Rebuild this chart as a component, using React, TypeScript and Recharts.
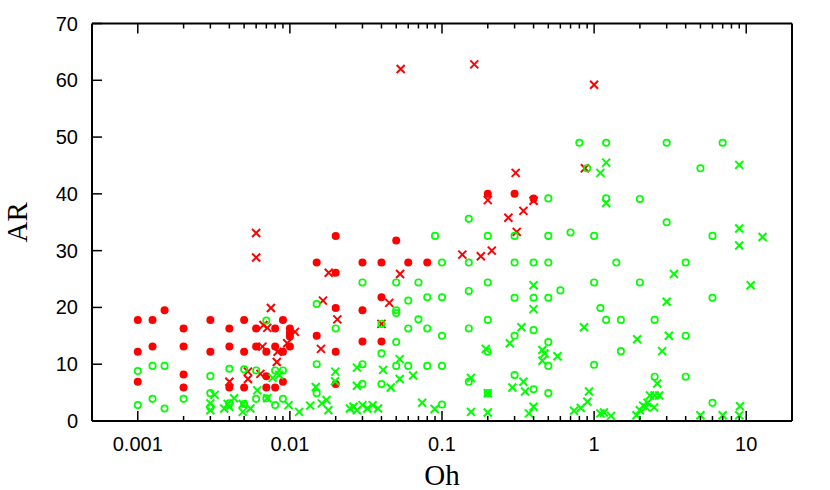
import { ScatterChart, Scatter, XAxis, YAxis, Label } from "recharts";

// Oh, AR pairs
const redDots: [number, number][] = [
  [0.001, 17.8], [0.001, 12.2], [0.001, 6.9],
  [0.00125, 17.8], [0.00125, 13.1],
  [0.0015, 19.5],
  [0.002, 16.3], [0.002, 13.1], [0.002, 8.2], [0.002, 5.9],
  [0.003, 17.8], [0.003, 12.2],
  [0.004, 16.3], [0.004, 13.1], [0.004, 5.9],
  [0.005, 17.8], [0.005, 12.2], [0.005, 5.9],
  [0.006, 16.3], [0.006, 13.1],
  [0.007, 12.2], [0.007, 7.9], [0.007, 5.9],
  [0.008, 16.3], [0.008, 13.1], [0.008, 5.9],
  [0.009, 17.8], [0.009, 12.2], [0.009, 6.9],
  [0.01, 16.3], [0.01, 15.6], [0.01, 14.9], [0.01, 13.1],
  [0.015, 27.9], [0.015, 15.0],
  [0.02, 32.6], [0.02, 26.1], [0.02, 19.9], [0.02, 12.2], [0.02, 6.5],
  [0.03, 27.9], [0.03, 19.5], [0.03, 14.0],
  [0.04, 27.9], [0.04, 21.8], [0.04, 14.0],
  [0.05, 31.8], [0.06, 27.9], [0.08, 27.9],
  [0.2, 40.0], [0.3, 40.0], [0.4, 39.2],
];

const redCrosses: [number, number][] = [
  [0.006, 33.1], [0.006, 28.8], [0.0075, 19.9], [0.0067, 16.9], [0.0071, 16.4],
  [0.0108, 15.7], [0.0096, 13.7], [0.0083, 12.2], [0.0082, 10.4], [0.0066, 13.1],
  [0.0053, 8.7], [0.0053, 7.4], [0.0064, 8.3], [0.004, 6.9],
  [0.018, 26.1], [0.0165, 21.2], [0.0205, 17.9], [0.016, 12.7],
  [0.053, 25.9], [0.045, 20.8], [0.04, 17.1], [0.0535, 62.0],
  [0.163, 62.8], [1.0, 59.2], [0.87, 44.5], [0.305, 43.7],
  [0.2, 38.9], [0.4, 38.8], [0.343, 37.0], [0.273, 35.8], [0.31, 33.3],
  [0.136, 29.3], [0.18, 29.0], [0.2125, 30.0],
];

const greenRings: [number, number][] = [
  [0.001, 8.8], [0.001, 2.8], [0.00125, 9.7], [0.00125, 3.9], [0.0015, 9.7], [0.0015, 2.2],
  [0.002, 3.9], [0.003, 7.9], [0.003, 4.9], [0.003, 2.4], [0.004, 9.2], [0.004, 3.1],
  [0.005, 9.1], [0.005, 3.0], [0.006, 8.9], [0.006, 3.9], [0.007, 17.7], [0.007, 4.0],
  [0.008, 8.9], [0.008, 2.8], [0.009, 8.9], [0.009, 3.9],
  [0.015, 20.6], [0.015, 10.0], [0.015, 4.9], [0.02, 16.3],
  [0.03, 24.4], [0.03, 10.0], [0.03, 6.5],
  [0.04, 17.1], [0.04, 11.9], [0.04, 6.5],
  [0.05, 24.4], [0.05, 19.5], [0.05, 19.0], [0.05, 13.9], [0.05, 9.7],
  [0.06, 21.2], [0.06, 16.3], [0.06, 9.7],
  [0.07, 24.4], [0.07, 17.9],
  [0.08, 21.8], [0.08, 16.3], [0.08, 9.7],
  [0.09, 32.6],
  [0.1, 27.9], [0.1, 21.8], [0.1, 15.0], [0.1, 9.7], [0.1, 2.9],
  [0.15, 35.6], [0.15, 27.9], [0.15, 22.9], [0.15, 16.3], [0.15, 6.9],
  [0.2, 32.6], [0.2, 24.4], [0.2, 17.8], [0.2, 12.2], [0.2, 4.9],
  [0.3, 32.6], [0.3, 27.9], [0.3, 21.7], [0.3, 15.0], [0.3, 8.1],
  [0.4, 27.9], [0.4, 21.7], [0.4, 16.0], [0.4, 5.6],
  [0.5, 39.2], [0.5, 32.6], [0.5, 27.9], [0.5, 21.7], [0.5, 13.9], [0.5, 9.7], [0.5, 4.9],
  [0.6, 23.0], [0.7, 33.2], [0.8, 49.0], [0.9, 44.5],
  [1.0, 32.6], [1.0, 24.4], [1.0, 9.9], [1.1, 19.9],
  [1.2, 49.0], [1.2, 39.2], [1.2, 17.8], [1.4, 27.9], [1.5, 17.8], [1.5, 12.3],
  [2.0, 39.1], [2.0, 24.4], [2.5, 17.8], [2.5, 7.8],
  [3.0, 49.0], [3.0, 35.0], [4.0, 27.9], [4.0, 15.0], [4.0, 7.8],
  [5.0, 44.5], [6.0, 32.6], [6.0, 21.7], [6.0, 3.2], [7.0, 49.0],
];

const greenCrosses: [number, number][] = [
  [0.0032, 4.6], [0.003, 3.1], [0.003, 1.9], [0.0037, 2.2], [0.0039, 3.0], [0.004, 2.5],
  [0.0043, 4.0], [0.0049, 3.0], [0.0049, 1.6], [0.0055, 2.2], [0.0061, 5.4], [0.0071, 4.0],
  [0.0077, 7.6], [0.0085, 8.1], [0.0098, 2.8], [0.0115, 1.6], [0.0136, 2.7], [0.0148, 6.0],
  [0.0162, 3.1], [0.0174, 3.7], [0.0179, 1.9], [0.0199, 8.7], [0.0198, 7.0],
  [0.0248, 2.2], [0.0262, 2.5], [0.0276, 9.4], [0.0276, 6.2], [0.0276, 1.9],
  [0.03, 2.8], [0.0323, 2.2], [0.035, 2.8], [0.038, 2.2],
  [0.041, 9.0], [0.046, 5.9], [0.0527, 7.4], [0.0527, 10.9], [0.0646, 8.0],
  [0.0741, 3.2], [0.0895, 2.1],
  [0.155, 1.6], [0.155, 7.6], [0.194, 12.7], [0.2, 4.9], [0.2, 1.5],
  [0.279, 13.7], [0.29, 5.9], [0.333, 16.5], [0.343, 6.9], [0.352, 5.2], [0.373, 1.35],
  [0.4, 2.5], [0.4, 23.9], [0.4, 19.7], [0.457, 12.5], [0.472, 11.9], [0.457, 10.6],
  [0.574, 11.4], [0.738, 1.8], [0.817, 2.3], [0.903, 3.4], [0.926, 5.2], [0.858, 16.5],
  [1.1, 43.7], [1.2, 45.5], [1.2, 38.4], [1.1, 1.35], [1.16, 1.5], [1.29, 0.9],
  [1.92, 14.4], [1.9, 1.0], [2.0, 1.9], [2.1, 2.7], [2.2, 2.4], [2.25, 3.2], [2.48, 2.4],
  [2.33, 4.5], [2.5, 4.5], [2.68, 4.5], [2.6, 6.6], [2.8, 12.3], [3.1, 15.0], [3.0, 21.0],
  [3.35, 25.9], [5.0, 1.0], [7.0, 1.0], [9.0, 1.0], [9.1, 2.6],
  [9.0, 45.1], [9.0, 33.9], [9.0, 30.9], [10.7, 23.9], [12.8, 32.4],
];

const majorTicks = [0.001, 0.01, 0.1, 1, 10];
const minorTicks = [
  0.002, 0.003, 0.004, 0.005, 0.006, 0.007, 0.008, 0.009,
  0.02, 0.03, 0.04, 0.05, 0.06, 0.07, 0.08, 0.09,
  0.2, 0.3, 0.4, 0.5, 0.6, 0.7, 0.8, 0.9,
  2, 3, 4, 5, 6, 7, 8, 9,
];
const yTicks = [0, 10, 20, 30, 40, 50, 60, 70];

const RED = "#ff0000";
const GREEN = "#00ff00";
const SANS = "'Liberation Sans', Arial, Helvetica, sans-serif";
const SERIF = "'Liberation Serif', 'Times New Roman', serif";

const toPoints = (rows: [number, number][]) => rows.map(([oh, ar]) => ({ oh, ar }));

const DotShape = (p: any) => <circle cx={p.cx} cy={p.cy} r={4} fill={RED} />;
const RingShape = (p: any) => (
  <circle cx={p.cx} cy={p.cy} r={3.2} fill="none" stroke={GREEN} strokeWidth={1.7} />
);
const crossShape = (color: string) => (p: any) => {
  const s = 4;
  return (
    <path
      d={`M${p.cx - s},${p.cy - s}L${p.cx + s},${p.cy + s}M${p.cx - s},${p.cy + s}L${p.cx + s},${p.cy - s}`}
      stroke={color}
      strokeWidth={2}
      fill="none"
    />
  );
};

const isMajor = (v: number) => majorTicks.includes(v);

const BottomTick = ({ x, y, payload }: any) => (
  <g>
    <line x1={x} y1={y} x2={x} y2={y - (isMajor(payload.value) ? 10 : 5)} stroke="#000" strokeWidth={1.5} />
    {isMajor(payload.value) && (
      <text x={x} y={y + 30} textAnchor="middle" fontSize={20} fontFamily={SANS} fill="#000">
        {String(payload.value)}
      </text>
    )}
  </g>
);

const TopTick = ({ x, y, payload }: any) => (
  <line x1={x} y1={y} x2={x} y2={y + (isMajor(payload.value) ? 10 : 5)} stroke="#000" strokeWidth={1.5} />
);

const LeftTick = ({ x, y, payload }: any) => (
  <g>
    <line x1={x} y1={y} x2={x + 10} y2={y} stroke="#000" strokeWidth={1.5} />
    <text x={x - 14} y={y + 7} textAnchor="end" fontSize={20} fontFamily={SANS} fill="#000">
      {payload.value}
    </text>
  </g>
);

const RightTick = ({ x, y }: any) => (
  <line x1={x} y1={y} x2={x - 10} y2={y} stroke="#000" strokeWidth={1.5} />
);

export default function App() {
  return (
    <div style={{ position: "absolute", left: 0, top: 0, background: "#fff" }}>
      <ScatterChart width={830} height={490} margin={{ top: 13.5, right: 28, bottom: 9, left: 0 }}>
        <XAxis
          dataKey="oh"
          type="number"
          scale="log"
          domain={[0.0005, 20]}
          allowDataOverflow
          ticks={[...majorTicks, ...minorTicks]}
          interval={0}
          tickSize={0}
          tickMargin={0}
          tickLine={false}
          tick={BottomTick}
          height={60}
          axisLine={{ stroke: "#000", strokeWidth: 2 }}
        >
          <Label
            content={({ viewBox }: any) => (
              <text
                x={viewBox.x + viewBox.width / 2}
                y={viewBox.y + 64}
                textAnchor="middle"
                fontSize={29}
                fontFamily={SERIF}
                fill="#000"
              >
                Oh
              </text>
            )}
          />
        </XAxis>
        <XAxis
          xAxisId="top"
          orientation="top"
          dataKey="oh"
          type="number"
          scale="log"
          domain={[0.0005, 20]}
          allowDataOverflow
          ticks={[...majorTicks, ...minorTicks]}
          interval={0}
          tickSize={0}
          tickMargin={0}
          tickLine={false}
          tick={TopTick}
          height={10}
          axisLine={{ stroke: "#000", strokeWidth: 2 }}
        />
        <YAxis
          dataKey="ar"
          type="number"
          domain={[0, 70]}
          ticks={yTicks}
          interval={0}
          tickSize={0}
          tickMargin={0}
          tickLine={false}
          tick={LeftTick}
          width={92}
          axisLine={{ stroke: "#000", strokeWidth: 2 }}
        >
          <Label
            content={({ viewBox }: any) => {
              const cy = viewBox.y + viewBox.height / 2;
              return (
                <text
                  x={27}
                  y={cy}
                  transform={`rotate(-90, 27, ${cy})`}
                  textAnchor="middle"
                  fontSize={29}
                  fontFamily={SERIF}
                  fill="#000"
                >
                  AR
                </text>
              );
            }}
          />
        </YAxis>
        <YAxis
          yAxisId="right"
          orientation="right"
          dataKey="ar"
          type="number"
          domain={[0, 70]}
          ticks={yTicks}
          interval={0}
          tickSize={0}
          tickMargin={0}
          tickLine={false}
          tick={RightTick}
          width={10}
          axisLine={{ stroke: "#000", strokeWidth: 2 }}
        />
        <Scatter data={toPoints(redDots)} shape={DotShape} isAnimationActive={false} />
        <Scatter data={toPoints(redCrosses)} shape={crossShape(RED)} isAnimationActive={false} />
        <Scatter data={toPoints(greenRings)} shape={RingShape} isAnimationActive={false} />
        <Scatter data={toPoints(greenCrosses)} shape={crossShape(GREEN)} isAnimationActive={false} />
      </ScatterChart>
    </div>
  );
}
